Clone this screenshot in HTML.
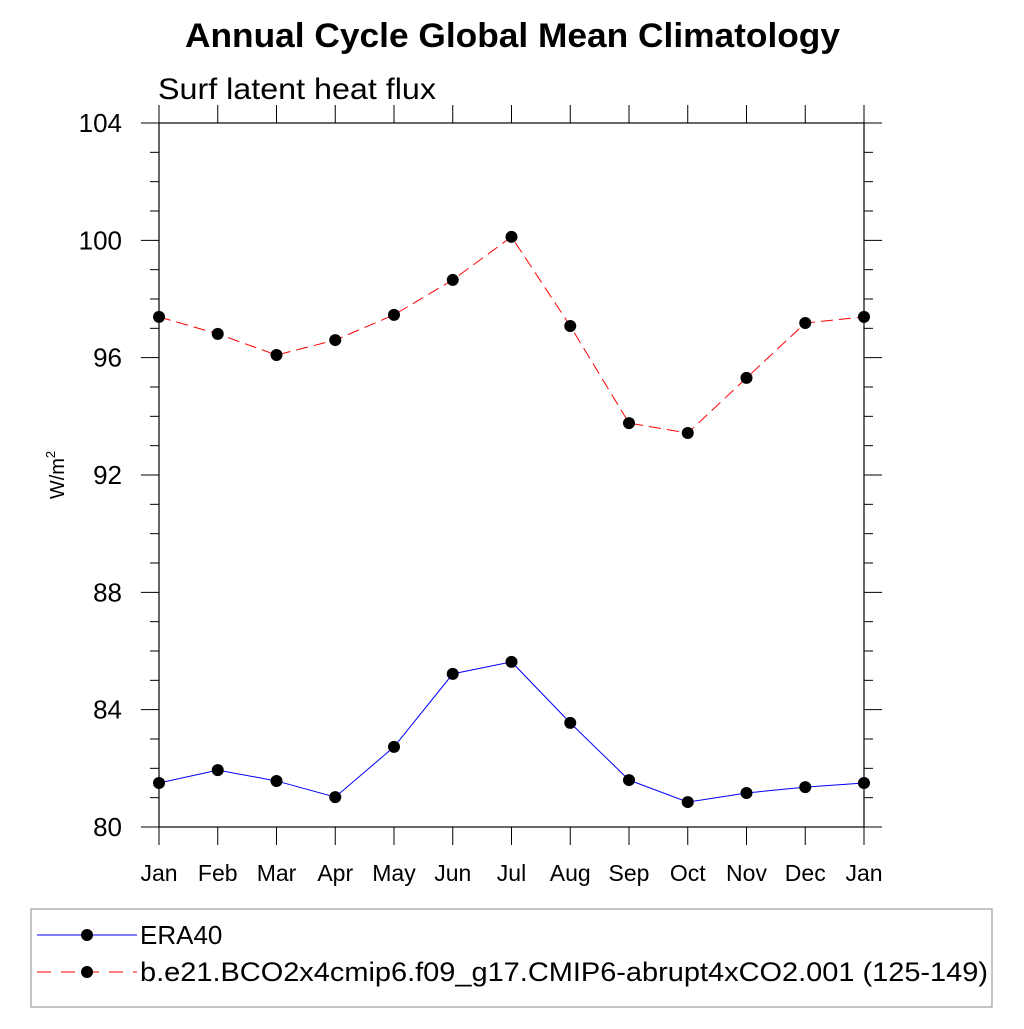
<!DOCTYPE html>
<html><head><meta charset="utf-8"><style>
html,body{margin:0;padding:0;background:#fff;}
svg text{font-family:"Liberation Sans",sans-serif;}
</style></head><body>
<svg id="chart" width="1024" height="1024" viewBox="0 0 1024 1024">
<text x="185" y="47" textLength="655" lengthAdjust="spacingAndGlyphs" font-size="34" font-weight="bold">Annual Cycle Global Mean Climatology</text>
<text x="158" y="99" textLength="278" lengthAdjust="spacingAndGlyphs" font-size="30">Surf latent heat flux</text>
<text transform="translate(64,475) rotate(-90)" text-anchor="middle" font-size="20">W/m<tspan dy="-9" font-size="13">2</tspan></text>
<g id="axes"></g>
<g id="series"></g>
<g>
<rect x="31" y="909" width="961" height="98" fill="none" stroke="#888" stroke-width="1"/>
<line x1="37" y1="935" x2="137" y2="935" stroke="#0000ff" stroke-width="1"/>
<circle cx="87" cy="935" r="6" fill="#000"/>
<text x="140" y="944" font-size="26">ERA40</text>
<line x1="37" y1="972" x2="137" y2="972" stroke="#ff0000" stroke-width="1" stroke-dasharray="14,10"/>
<circle cx="87" cy="972" r="6" fill="#000"/>
<text x="140" y="981" textLength="848" lengthAdjust="spacingAndGlyphs" font-size="27">b.e21.BCO2x4cmip6.f09_g17.CMIP6-abrupt4xCO2.001 (125-149)</text>
</g>
</svg>
<script>
const months = ["Jan","Feb","Mar","Apr","May","Jun","Jul","Aug","Sep","Oct","Nov","Dec","Jan"];
const era40 = [81.50,81.94,81.57,81.02,82.73,85.22,85.63,83.55,81.60,80.85,81.16,81.36,81.50];
const model = [97.39,96.81,96.09,96.60,97.46,98.65,100.12,97.08,93.77,93.43,95.31,97.18,97.39];
const yTicks = [80,84,88,92,96,100,104];

const L=159,R=864,T=123,B=827,yMin=80,yMax=104;
const xS=i=>L+(R-L)*i/(months.length-1);
const yS=v=>B-(v-yMin)/(yMax-yMin)*(B-T);
const NS="http://www.w3.org/2000/svg";
function mk(tag,attrs,parent){const e=document.createElementNS(NS,tag);for(const k in attrs)e.setAttribute(k,attrs[k]);parent.appendChild(e);return e;}
const ax=document.getElementById('axes');
const frame=mk('rect',{x:L,y:T,width:R-L,height:B-T,fill:'none',stroke:'#000','stroke-width':1.2},ax);


for(let v=yMin;v<=yMax;v+=1){
  const major=yTicks.includes(v);const len=major?18:9;const y=yS(v);
  mk('line',{x1:L-len,y1:y,x2:L,y2:y,stroke:'#000','stroke-width':1},ax);
  mk('line',{x1:R,y1:y,x2:R+len,y2:y,stroke:'#000','stroke-width':1},ax);
}
yTicks.forEach(v=>{
  const t=mk('text',{x:L-37,y:yS(v)+9,'text-anchor':'end','font-size':26},ax);
  t.textContent=v;
  
  
});
months.forEach((m,i)=>{
  const x=xS(i);
  mk('line',{x1:x,y1:B,x2:x,y2:B+18,stroke:'#000','stroke-width':1},ax);
  mk('line',{x1:x,y1:T-18,x2:x,y2:T,stroke:'#000','stroke-width':1},ax);
  const t=mk('text',{x:x,y:881,'text-anchor':'middle','font-size':23},ax);
  t.textContent=m;
  
  
});
const sg=document.getElementById('series');
function draw(vals,color,dash,name){
  const g=mk('g',{},sg);
  
  
  const pts=vals.map((v,i)=>xS(i)+','+yS(v)).join(' ');
  const attrs={points:pts,fill:'none',stroke:color,'stroke-width':1};
  if(dash)attrs['stroke-dasharray']=dash;
  mk('polyline',attrs,g);
  vals.forEach((v,i)=>{
    const c=mk('circle',{cx:xS(i),cy:yS(v),r:6,fill:'#000'},g);
    
    
  });
}
draw(era40,'#0000ff',null,'series-era40');
draw(model,'#ff0000','12,6','series-model');
</script>
</body></html>
